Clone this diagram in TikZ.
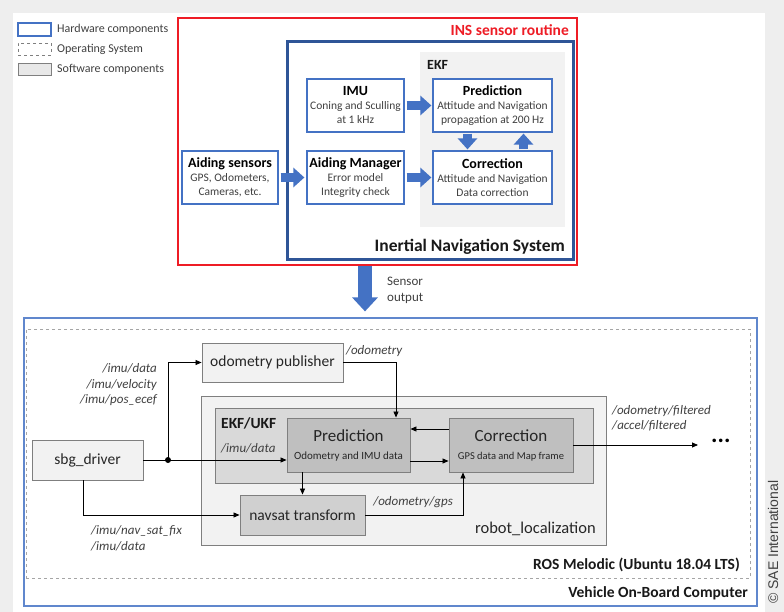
\documentclass[tikz,border=0pt]{standalone}
\usepackage{fontspec}
\setmainfont{Carlito}
\newfontfamily\saefont{Liberation Sans}
\usetikzlibrary{arrows.meta}

\definecolor{hwblue}{HTML}{4472C4}
\definecolor{insblue}{HTML}{2F5597}
\definecolor{insred}{HTML}{EE1C25}
\definecolor{swgray}{HTML}{F2F2F2}
\definecolor{ekfgray}{HTML}{D9D9D9}
\definecolor{boxgray}{HTML}{BFBFBF}
\definecolor{navgray}{HTML}{D0D0D0}
\definecolor{edgegray}{HTML}{7F7F7F}
\definecolor{txtgray}{HTML}{404040}
\definecolor{pagegray}{HTML}{EEEEEE}

\newcommand{\hwtitle}[1]{{\fontsize{14}{16}\selectfont\bfseries\color{black}#1}}

\tikzset{
  hwbox/.style={draw=hwblue, line width=1.2pt, fill=white, align=center, inner sep=1pt,
    text=txtgray, font=\fontsize{11.5}{14}\selectfont},
  swbox/.style={draw=edgegray, line width=0.9pt, fill=swgray, align=center, inner sep=1pt,
    text=black!85, font=\fontsize{15.5}{18}\selectfont},
  blockarrow/.style={draw=hwblue, line width=9pt, -{Triangle[length=11pt,width=19pt]}},
  topic/.style={font=\fontsize{13}{15.5}\selectfont\itshape, text=txtgray, inner sep=0pt},
  boxlabel/.style={font=\fontsize{15.5}{18}\selectfont\bfseries, text=black!90, inner sep=0pt},
  wire/.style={draw=black, line width=0.8pt, -{Triangle[length=6pt,width=5pt]}},
}

\begin{document}
\begin{tikzpicture}[x=1pt,y=-1pt]
\useasboundingbox (0,0) rectangle (784,612);

% page and shadow
\fill[pagegray] (0,0) rectangle (784,612);
\fill[white] (13,13) rectangle (765,612);

% Legend
\node[hwbox, minimum width=33pt, minimum height=13pt] (keyhw) at (34.5,29.5) {};
\node[draw=edgegray, dashed, line width=0.8pt, minimum width=33pt, minimum height=12pt] (keyos) at (34.5,49) {};
\node[draw=edgegray, fill=ekfgray!60, line width=0.8pt, minimum width=33pt, minimum height=12pt] (keysw) at (34.5,69) {};
\node[anchor=west, inner sep=0pt, text=txtgray, font=\fontsize{12}{14}\selectfont] (keyhwtxt) at (57,29.5) {Hardware components};
\node[anchor=west, inner sep=0pt, text=txtgray, font=\fontsize{12}{14}\selectfont] (keyostxt) at (57,49) {Operating System};
\node[anchor=west, inner sep=0pt, text=txtgray, font=\fontsize{12}{14}\selectfont] (keyswtxt) at (57,69) {Software components};

% INS sensor routine (upper part)
\node[draw=insred, line width=2pt, fill=white, minimum width=399pt, minimum height=247pt] (routine) at (377.5,141.5) {};
\node[draw=insblue, line width=3pt, minimum width=286pt, minimum height=218pt] (ins) at (430,151) {};
\node[fill=swgray, minimum width=145pt, minimum height=175pt] (ekf) at (492.5,139.5) {};

\node[boxlabel, anchor=east, text=insred] (routinelbl) at (569,30) {INS sensor routine};
\node[boxlabel, anchor=east, font=\fontsize{17.5}{20}\selectfont\bfseries] (inslbl) at (565,247) {Inertial Navigation System};
\node[boxlabel, anchor=west, font=\fontsize{14}{16}\selectfont\bfseries] (ekflbl) at (427,65) {EKF};

\node[hwbox, minimum width=96pt, minimum height=53pt] (aid) at (230,177.5)
  {\hwtitle{Aiding sensors}\\GPS, Odometers,\\Cameras, etc.};
\node[hwbox, minimum width=97pt, minimum height=53pt] (imu) at (355.5,105.5)
  {\hwtitle{IMU}\\Coning and Sculling\\at\ 1 kHz};
\node[hwbox, minimum width=97pt, minimum height=53pt] (aidman) at (355.5,177.5)
  {\hwtitle{Aiding Manager}\\Error model\\Integrity check};
\node[hwbox, minimum width=119pt, minimum height=53pt] (pred) at (492.5,105.5)
  {\hwtitle{Prediction}\\Attitude and Navigation\\propagation at 200 Hz};
\node[hwbox, minimum width=119pt, minimum height=53pt] (corr) at (492.5,177.5)
  {\hwtitle{Correction}\\Attitude and Navigation\\Data correction};

% block arrows
\draw[blockarrow, shorten <=2pt, shorten >=2pt] (aid.east) -- (aidman.west);
\draw[blockarrow, shorten <=2pt, shorten >=1pt] (imu.east) -- (pred.west);
\draw[blockarrow, shorten <=2pt, shorten >=1pt] (aidman.east) -- (corr.west);
\draw[blockarrow, shorten <=1pt, shorten >=1pt] ([xshift=-25pt]pred.south) -- ([xshift=-25pt]corr.north);
\draw[blockarrow, shorten <=1pt, shorten >=1pt] ([xshift=31pt]corr.north) -- ([xshift=31pt]pred.south);

% Vehicle On-Board Computer (lower part)
\node[draw=hwblue!85, line width=1.2pt, minimum width=733pt, minimum height=288pt] (vehicle) at (390.5,462) {};
\node[draw=edgegray!70, dashed, line width=1pt, minimum width=724pt, minimum height=249pt] (ros) at (388,453.5) {};

% Sensor output
\draw[draw=hwblue, line width=14pt, -{Triangle[length=14pt,width=25pt]}, shorten >=6pt]
  ([xshift=-12.5pt]routine.south) -- ([xshift=-12.5pt]routine.south |- vehicle.north);
\node[anchor=west, align=left, inner sep=0pt, text=txtgray, font=\fontsize{13}{16}\selectfont] (sensorlbl) at (387,290) {Sensor\\output};

\node[boxlabel, anchor=east] (roslbl) at (740,565) {ROS Melodic (Ubuntu 18.04 LTS)};
\node[boxlabel, anchor=east] (vehiclelbl) at (748,593) {Vehicle On-Board Computer};

% robot_localization
\node[draw=edgegray, line width=0.9pt, fill=swgray, minimum width=405pt, minimum height=149pt] (robloc) at (403.5,470.5) {};
\node[draw=edgegray, line width=0.9pt, fill=ekfgray, minimum width=378pt, minimum height=75pt] (ekfukf) at (404,445.5) {};
\node[anchor=east, inner sep=0pt, text=black!85, font=\fontsize{16.5}{19}\selectfont] (robloclbl) at (596,529) {robot\_localization};
\node[boxlabel, anchor=west] (ekfukflbl) at (221,423) {EKF/UKF};

\node[swbox, minimum width=141pt, minimum height=39pt] (odompub) at (272.5,362.5) {odometry publisher};
\node[swbox, minimum width=111pt, minimum height=40pt] (sbg) at (87.5,460) {sbg\_driver};
\node[swbox, fill=boxgray, minimum width=123pt, minimum height=54pt] (lpred) at (348.5,445)
  {{\fontsize{17}{19}\selectfont Prediction}\\{\fontsize{11}{13}\selectfont Odometry and IMU data}};
\node[swbox, fill=boxgray, minimum width=124pt, minimum height=54pt] (lcorr) at (511,445)
  {{\fontsize{17}{19}\selectfont Correction}\\{\fontsize{10.5}{13}\selectfont GPS data and Map frame}};
\node[swbox, fill=navgray, minimum width=125pt, minimum height=40pt] (navsat) at (302.5,515) {navsat transform};

% topics
\node[topic, anchor=east, align=right] (imutopics) at (157,385) {/imu/data\\/imu/velocity\\/imu/pos\_ecef};
\node[topic, anchor=west] (odomtopic) at (346,351) {/odometry};
\node[topic, anchor=west] (imudata) at (221,448) {/imu/data};
\node[topic, anchor=west, align=left] (navtopics) at (91,538.5) {/imu/nav\_sat\_fix\\/imu/data};
\node[topic, anchor=east] (gpstopic) at (453,502) {/odometry/gps};
\node[topic, anchor=west, align=left] (filttopics) at (612,418) {/odometry/filtered\\/accel/filtered};

% connectors
\coordinate (junc) at (168,460);
\coordinate (outend) at (698,445);
\draw[wire] (sbg.east) -- (sbg.east -| lpred.west);
\fill[black] (junc) circle[radius=3pt];
\draw[wire] (junc) |- (odompub.west);
\draw[wire] (odompub.east) -| ([xshift=47.5pt]lpred.north);
\draw[wire] ([yshift=16pt]lcorr.west) -- ([yshift=16pt]lpred.east);
\draw[wire] ([yshift=-16pt]lpred.east) -- ([yshift=-16pt]lcorr.west);
\draw[wire] (navsat.north |- lpred.south) -- (navsat.north);
\draw[wire] ([xshift=-4.5pt]sbg.south) |- (navsat.west);
\draw[wire] (navsat.east) -| ([xshift=-48pt]lcorr.south);
\draw[wire] (lcorr.east) -- (outend);
\node[anchor=west, inner sep=0pt, font=\fontsize{24}{24}\selectfont\bfseries] (dots) at (711,441) {...};

% copyright
\node[rotate=90, anchor=west, inner sep=0pt, text=txtgray, font=\saefont\fontsize{14}{16}\selectfont] (sae) at (773,604) {© SAE International};

\end{tikzpicture}
\end{document}
